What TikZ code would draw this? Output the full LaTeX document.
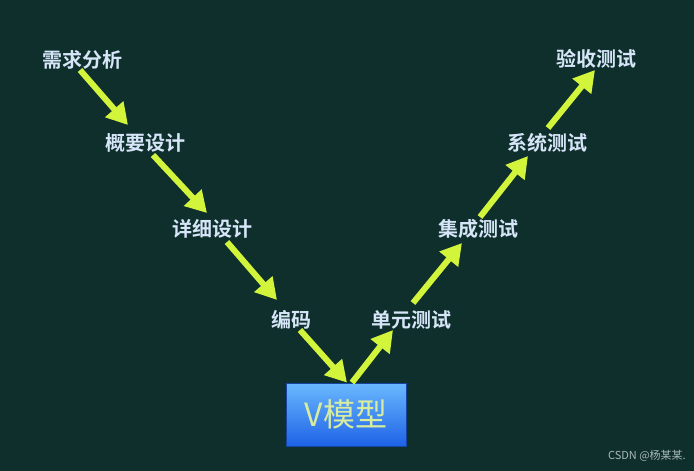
\documentclass[tikz,border=0pt]{standalone}
\usepackage{fontspec}
\newfontfamily\cjk{Noto Sans CJK SC}
\newfontfamily\cjkb{Noto Sans CJK SC Bold}
\usetikzlibrary{arrows.meta,calc}
\definecolor{bgc}{HTML}{0F2F2C}
\definecolor{lbl}{HTML}{D6E6F8}
\definecolor{arc}{HTML}{D2F53C}
\definecolor{boxtop}{HTML}{6AB8FF}
\definecolor{boxbot}{HTML}{1E62E6}
\definecolor{vtxt}{HTML}{D8ECA0}
\definecolor{wm}{HTML}{A8B8B8}
\tikzset{
  stage/.style={inner sep=0pt,text=lbl,font=\cjkb\fontsize{20}{20}\selectfont,text height=16pt,text depth=2pt},
  flow/.style={draw=arc,line width=6pt,-{Triangle[length=21pt,width=23pt]}},
  vbox/.style={minimum width=120pt,minimum height=63pt,inner sep=0pt,top color=boxtop,bottom color=boxbot,draw=boxbot!70!black,line width=0.8pt,text=vtxt,font=\cjk\fontsize{32}{32}\selectfont}
}
\begin{document}
\begin{tikzpicture}[x=1pt,y=-1pt]
\fill[bgc] (0,0) rectangle (694,471);
\useasboundingbox (0,0) rectangle (694,471);
\node[stage] (a) at (82,60) {需求分析};
\node[stage] (b) at (145,143) {概要设计};
\node[stage] (c) at (212,229) {详细设计};
\node[stage] (d) at (291,320) {编码};
\node[vbox] (v) at (346,414.5) {V模型};
\node[stage] (e) at (411,320) {单元测试};
\node[stage] (f) at (478,229) {集成测试};
\node[stage] (g) at (547,143) {系统测试};
\node[stage] (h) at (596,59) {验收测试};
\node[text=wm,font=\cjk\fontsize{11}{11}\selectfont,anchor=east,inner sep=0pt] (w) at (686,456) {CSDN @杨某某.};
\draw[flow] ($(a)+(-2,10)$) -- ($(b)+(-17,-18)$);
\draw[flow] ($(b)+(8,12)$) -- ($(c)+(-5,-16)$);
\draw[flow] ($(c)+(15,13)$) -- ($(d)+(-14,-20)$);
\draw[flow] ($(d)+(9,10)$) -- ($(v.north)+(1,0)$);
\draw[flow] ($(v.north)+(6,0)$) -- ($(e)+(-18,10)$);
\draw[flow] ($(e)+(2,-17)$) -- ($(f)+(-16,14)$);
\draw[flow] ($(f)+(2,-12)$) -- ($(g)+(-19,13)$);
\draw[flow] ($(g)+(1,-15)$) -- ($(h)+(-1,11)$);
\end{tikzpicture}
\end{document}
